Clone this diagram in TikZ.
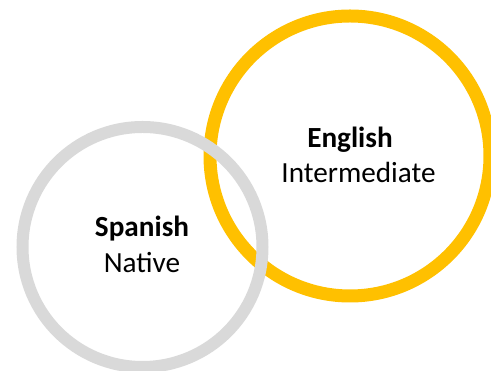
\documentclass[tikz,border=0pt]{standalone}
\usepackage{fontspec}
\setmainfont{Carlito}
\definecolor{langgray}{HTML}{D9D9D9}
\definecolor{langgold}{HTML}{FFC000}
\tikzset{
  langname/.style={anchor=base,inner sep=0pt,font=\fontsize{29.2}{35}\selectfont\bfseries},
  langlevel/.style={anchor=base,inner sep=0pt,font=\fontsize{29.2}{35}\selectfont},
}

\begin{document}
\begin{tikzpicture}[x=1pt,y=1pt]
  \useasboundingbox (0,0) rectangle (491,371);
  \draw[langgold,line width=13pt] (350,215) circle (140pt);
  \draw[langgray,line width=12pt] (142.5,124) circle (120pt);

  \node[langname] (english) at (350,223) {English};
  \node[langlevel] (intermediate) at (358.5,188) {Intermediate};

  \node[langname] (spanish) at (142,134) {Spanish};
  \node[langlevel] (native) at (142,98) {Native};
\end{tikzpicture}
\end{document}
